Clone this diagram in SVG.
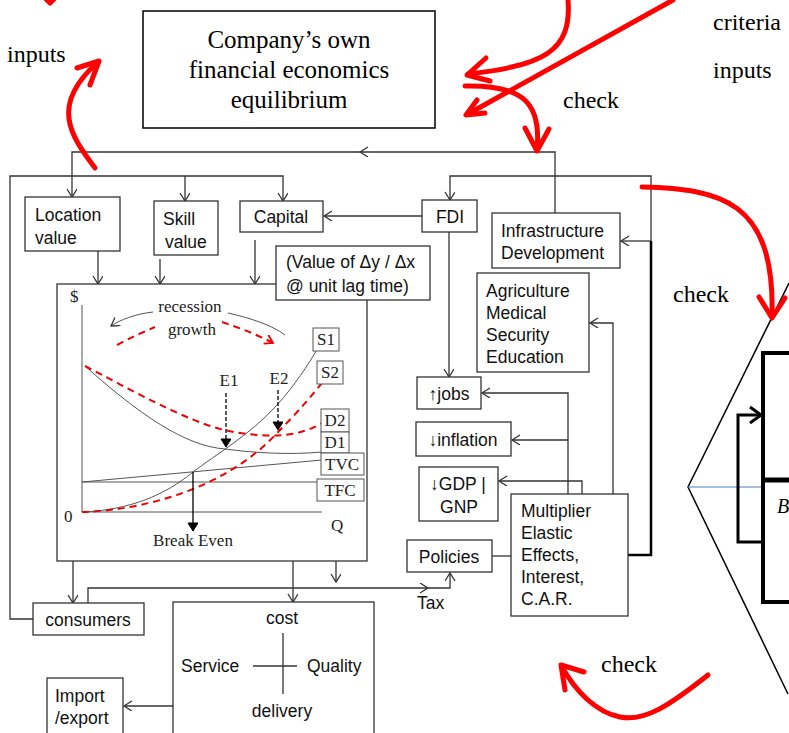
<svg xmlns="http://www.w3.org/2000/svg" width="789" height="733" viewBox="0 0 789 733">
<style>
.box{fill:#fff;stroke:#333;stroke-width:1.3}
.c{fill:none;stroke:#333;stroke-width:1.3}
.t{font-family:"Liberation Sans",Arial,sans-serif;font-size:17.5px;fill:#111}
.tm{font-family:"Liberation Serif","Times New Roman",serif;fill:#000}
.ch{font-family:"Liberation Serif","Times New Roman",serif;font-size:17px;fill:#222}
.red{fill:none;stroke:#f00;stroke-width:5;stroke-linecap:round;stroke-linejoin:round}
.g{fill:none;stroke:#555;stroke-width:1}
.rd{fill:none;stroke:#e00;stroke-width:2;stroke-dasharray:7,5}
.lb{fill:#fff;stroke:#555;stroke-width:1}
</style>
<defs>
<marker id="a" markerUnits="userSpaceOnUse" markerWidth="12" markerHeight="12" refX="9" refY="5" orient="auto">
<path d="M1,0 L9,5 L1,10" fill="none" stroke="#333" stroke-width="1.3"/>
</marker>
<marker id="ab" markerUnits="userSpaceOnUse" markerWidth="12" markerHeight="12" refX="9" refY="5" orient="auto">
<path d="M1,0 L9,5 L1,10 Z" fill="#000" stroke="#000" stroke-width="1"/>
</marker>
<marker id="ar" markerUnits="userSpaceOnUse" markerWidth="12" markerHeight="12" refX="9" refY="5" orient="auto">
<path d="M1,0 L9,5 L1,10" fill="none" stroke="#e00" stroke-width="1.8"/>
</marker>
</defs>

<g id="connectors">
<path class="c" d="M555,213 L555,152 L360,152" marker-end="url(#a)"/>
<path class="c" d="M360,152 L72,152 L72,197" marker-end="url(#a)"/>
<path class="c" d="M651,241 L651,176 L450,176 L450,200" marker-end="url(#a)"/>
<path class="c" d="M651,241 L621,241" marker-end="url(#a)"/>
<path d="M628,555 L651,555 L651,241" fill="none" stroke="#000" stroke-width="2.5"/>
<path class="c" d="M33,619 L10,619 L10,176 L283,176 L283,201" marker-end="url(#a)"/>
<path class="c" d="M185,176 L185,201" marker-end="url(#a)"/>
<path class="c" d="M422,216 L324,216" marker-end="url(#a)"/>
<path class="c" d="M449,232 L449,377" marker-end="url(#a)"/>
<path class="c" d="M613,494 L613,323 L590,323" marker-end="url(#a)"/>
<path class="c" d="M568,494 L568,393 L482,393" marker-end="url(#a)"/>
<path class="c" d="M568,440 L512,440" marker-end="url(#a)"/>
<path class="c" d="M582,494 L582,481 L499,481" marker-end="url(#a)"/>
<path class="c" d="M492,556 L511,556"/>
<path class="c" d="M98,251 L98,284" marker-end="url(#a)"/>
<path class="c" d="M160,259 L160,284" marker-end="url(#a)"/>
<path class="c" d="M255,240 L255,284" marker-end="url(#a)"/>
<path class="c" d="M73,561 L73,603" marker-end="url(#a)"/>
<path class="c" d="M293,561 L293,602" marker-end="url(#a)"/>
<path class="c" d="M336,561 L336,582" marker-end="url(#a)"/>
<path class="c" d="M88,603 L88,588 L428,588" marker-end="url(#a)"/>
<path class="c" d="M426,588 L450,588 L450,573" marker-end="url(#a)"/>
<path class="c" d="M173,706 L124,706" marker-end="url(#a)"/>
</g>

<g id="equilibrium">
<rect x="143" y="11" width="292" height="117" fill="#fff" stroke="#000" stroke-width="1.5"/>
<text class="tm" font-size="25" text-anchor="middle"><tspan x="289" y="48">Company’s own</tspan><tspan x="289" y="78">financial economics</tspan><tspan x="289" y="108">equilibrium</tspan></text>
</g>

<g id="location"><rect class="box" x="25" y="197" width="95" height="54"/><text class="t"><tspan x="35" y="221">Location</tspan><tspan x="35" y="244">value</tspan></text></g>
<g id="skill"><rect class="box" x="154" y="201" width="64" height="54"/><text class="t"><tspan x="163" y="225">Skill</tspan><tspan x="165" y="248">value</tspan></text></g>
<g id="capital"><rect class="box" x="240" y="201" width="83" height="31"/><text class="t" x="281" y="223" text-anchor="middle">Capital</text></g>
<g id="fdi"><rect class="box" x="422" y="200" width="55" height="32"/><text class="t" x="450" y="223" text-anchor="middle">FDI</text></g>
<g id="infrastructure"><rect class="box" x="492" y="213" width="128" height="55"/><text class="t"><tspan x="501" y="237">Infrastructure</tspan><tspan x="501" y="259">Development</tspan></text></g>
<g id="agriculture"><rect class="box" x="477" y="273" width="112" height="99"/><text class="t"><tspan x="486" y="297">Agriculture</tspan><tspan x="486" y="319">Medical</tspan><tspan x="486" y="341">Security</tspan><tspan x="486" y="363">Education</tspan></text></g>
<g id="jobs"><rect class="box" x="417" y="377" width="64" height="32"/><text class="t" x="449" y="400" text-anchor="middle">↑jobs</text></g>
<g id="inflation"><rect class="box" x="416" y="422" width="95" height="34"/><text class="t" x="463" y="446" text-anchor="middle">↓inflation</text></g>
<g id="gdp"><rect class="box" x="419" y="467" width="79" height="54"/><text class="t" text-anchor="middle"><tspan x="458" y="490">↓GDP |</tspan><tspan x="459" y="513">GNP</tspan></text></g>
<g id="multiplier"><rect class="box" x="511" y="494" width="117" height="122"/><text class="t"><tspan x="521" y="517">Multiplier</tspan><tspan x="521" y="539">Elastic</tspan><tspan x="521" y="561">Effects,</tspan><tspan x="521" y="583">Interest,</tspan><tspan x="521" y="605">C.A.R.</tspan></text></g>
<g id="policies"><rect class="box" x="407" y="540" width="85" height="32"/><text class="t" x="449" y="563" text-anchor="middle">Policies</text></g>
<g id="tax"><text class="t" x="417" y="609">Tax</text></g>
<g id="consumers"><rect class="box" x="33" y="603" width="111" height="32"/><text class="t" x="88" y="626" text-anchor="middle">consumers</text></g>
<g id="import"><rect class="box" x="47" y="678" width="76" height="58"/><text class="t"><tspan x="55" y="702">Import</tspan><tspan x="55" y="724">/export</tspan></text></g>
<g id="cost">
<rect class="box" x="173" y="602" width="201" height="140"/>
<text class="t" x="282" y="624" text-anchor="middle">cost</text>
<text class="t" x="181" y="672">Service</text>
<text class="t" x="307" y="672">Quality</text>
<text class="t" x="282" y="717" text-anchor="middle">delivery</text>
<path class="c" d="M253,666 L297,666 M283,633 L283,694"/>
</g>

<g id="chart">
<rect class="box" x="57" y="284" width="310" height="277"/>
<text class="ch" x="70" y="302" font-size="14">$</text>
<path class="g" d="M82,305 L82,512 L322,512"/>
<text class="ch" x="64" y="522">0</text>
<text class="ch" x="331" y="531">Q</text>
<path class="g" d="M82,482 L318,482"/>
<path class="g" d="M82,482 L322,460"/>
<path class="g" d="M85,366 C140,415 185,446 225,449 C255,453 290,455 322,452"/>
<path class="rd" d="M85,366 C150,400 200,428 240,433 C275,438 300,436 322,423"/>
<path class="g" d="M82,512 C130,510 165,495 193,472 C215,455 250,435 277,405 C295,385 308,365 318,348"/>
<path class="rd" d="M82,512 C150,510 230,485 278,432 C300,410 312,395 322,383"/>
<rect class="lb" x="313" y="328" width="26" height="23"/><text class="ch" x="326" y="345" text-anchor="middle" font-size="15">S1</text>
<rect class="lb" x="317" y="361" width="26" height="23"/><text class="ch" x="330" y="378" text-anchor="middle" font-size="15">S2</text>
<rect class="lb" x="321" y="409" width="28" height="23"/><text class="ch" x="335" y="426" text-anchor="middle" font-size="15">D2</text>
<rect class="lb" x="321" y="432" width="28" height="21"/><text class="ch" x="335" y="448" text-anchor="middle" font-size="15">D1</text>
<rect class="lb" x="321" y="453" width="43" height="22"/><text class="ch" x="342" y="470" text-anchor="middle" font-size="15">TVC</text>
<rect class="lb" x="317" y="479" width="47" height="22"/><text class="ch" x="340" y="496" text-anchor="middle" font-size="15">TFC</text>
<text class="ch" x="229" y="386" text-anchor="middle" font-size="15">E1</text>
<text class="ch" x="279" y="384" text-anchor="middle" font-size="15">E2</text>
<path d="M226,393 L226,447" fill="none" stroke="#000" stroke-width="1.3" stroke-dasharray="4,2" marker-end="url(#ab)"/>
<path d="M278,390 L278,430" fill="none" stroke="#000" stroke-width="1.3" stroke-dasharray="4,2" marker-end="url(#ab)"/>
<path d="M193,472 L193,531" fill="none" stroke="#000" stroke-width="1.3" marker-end="url(#ab)"/>
<text class="ch" x="193" y="546" text-anchor="middle">Break Even</text>
<text class="ch" x="190" y="312" text-anchor="middle">recession</text>
<text class="ch" x="192" y="335" text-anchor="middle">growth</text>
<path class="g" d="M153,312 C135,314 120,320 111,326" marker-end="url(#a)"/>
<path class="g" d="M228,313 C250,318 272,325 285,335"/>
<path class="rd" d="M117,345 C130,338 143,332 155,327"/>
<path class="rd" d="M222,322 C240,328 258,335 273,343" marker-end="url(#ar)"/>
</g>
<g id="value"><rect class="box" x="276" y="246" width="154" height="54"/><text class="t"><tspan x="286" y="268">(Value of Δy / Δx</tspan><tspan x="286" y="292">@ unit lag time)</tspan></text></g>

<g id="labels">
<text class="tm" font-size="24" x="7" y="62">inputs</text>
<text class="tm" font-size="24" x="713" y="30">criteria</text>
<text class="tm" font-size="24" x="713" y="78">inputs</text>
<text class="tm" font-size="24" x="563" y="108">check</text>
<text class="tm" font-size="24" x="673" y="302">check</text>
<text class="tm" font-size="24" x="601" y="672">check</text>
</g>

<g id="side">
<path d="M789,283 L688,487 L788,694" fill="none" stroke="#000" stroke-width="1.5"/>
<path d="M688,487 L763,487" stroke="#4a7ebb" stroke-width="1"/>
<path d="M789,353 L763,353 L763,602 L789,602" fill="none" stroke="#000" stroke-width="4"/>
<path d="M763,480 L789,480" stroke="#000" stroke-width="5"/>
<path d="M763,542 L738,542 L738,415 L760,415" fill="none" stroke="#000" stroke-width="3"/>
<path d="M750,407 L761,415 L750,423" fill="none" stroke="#000" stroke-width="3"/>
<text class="tm" font-size="20" font-style="italic" x="777" y="513">B</text>
</g>

<g id="red-arrows">
<path class="red" d="M46,-1 L50,3 L54,-1"/>
<path class="red" d="M95,168 C70,135 50,105 97,63"/>
<path class="red" d="M77,68 L99,61 L90,85"/>
<path class="red" d="M568,0 C572,50 545,66 468,74"/>
<path class="red" d="M486,58 L467,75 L490,81"/>
<path class="red" d="M673,0 L468,114"/>
<path class="red" d="M477,100 L466,115 L485,113"/>
<path class="red" d="M465,86 C520,85 542,100 537,150"/>
<path class="red" d="M525,128 L537,151 L549,129"/>
<path class="red" d="M642,187 C720,189 775,200 772,315"/>
<path class="red" d="M759,297 L772,318 L785,298"/>
<path class="red" d="M708,675 C670,705 645,722 620,717 C595,712 575,690 562,667"/>
<path class="red" d="M565,690 L561,665 L584,672"/>
</g>
</svg>
